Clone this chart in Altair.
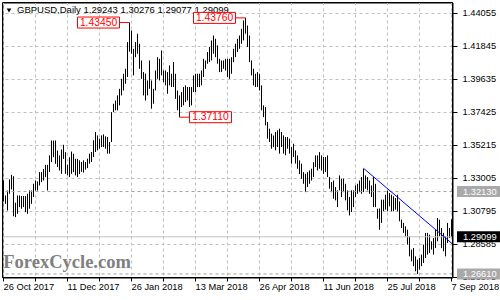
import altair as alt
import pandas as pd

# ---- daily GBPUSD bars, 26 Oct 2017 .. 7 Sep 2018 ----
highs = [
    1.3287, 1.3187, 1.3220, 1.3294, 1.3325, 1.3316, 1.3138, 1.3187, 1.3187, 1.3183,
    1.3183, 1.3183, 1.3198, 1.3220, 1.3220, 1.3265, 1.3287, 1.3281, 1.3343, 1.3343,
    1.3365, 1.3392, 1.3392, 1.3455, 1.3555, 1.3555, 1.3555, 1.3488, 1.3455, 1.3495,
    1.3526, 1.3477, 1.3392, 1.3443, 1.3481, 1.3466, 1.3432, 1.3432,
    1.3422, 1.3411, 1.3422, 1.3411, 1.3433, 1.3467, 1.3478, 1.3556, 1.3612, 1.3589,
    1.3567, 1.3589, 1.3596, 1.3583, 1.3578, 1.3545, 1.3745, 1.3801, 1.3823, 1.3857,
    1.3901, 1.3968, 1.4002, 1.4035, 1.4214, 1.4345, 1.4292, 1.4169, 1.4214, 1.4270,
    1.4203, 1.4091, 1.4013, 1.4002, 1.3957, 1.4091, 1.3957, 1.3901,
    1.4024, 1.4113, 1.4102, 1.4158, 1.4024, 1.4024, 1.4013, 1.4058, 1.4002, 1.4080,
    1.4002, 1.3890, 1.3857, 1.3879, 1.3913, 1.3924, 1.3913, 1.3913, 1.3913, 1.3991,
    1.4002, 1.4002, 1.4002, 1.4024, 1.4102, 1.4091, 1.4147, 1.4181, 1.4225, 1.4258,
    1.4236, 1.4192, 1.4102, 1.4091, 1.4091,
    1.4102, 1.4102, 1.4102, 1.4113, 1.4169, 1.4203, 1.4236, 1.4258, 1.4303, 1.4359,
    1.4376, 1.4325, 1.4258, 1.4091, 1.4035, 1.4002, 1.4013, 1.4002, 1.3924, 1.3790,
    1.3779, 1.3679, 1.3634, 1.3601, 1.3589, 1.3612, 1.3623, 1.3634, 1.3612, 1.3589,
    1.3578, 1.3578, 1.3567, 1.3511, 1.3533, 1.3489, 1.3455, 1.3422, 1.3400,
    1.3343, 1.3332, 1.3343, 1.3354, 1.3366, 1.3410, 1.3455, 1.3455, 1.3477, 1.3455,
    1.3444, 1.3444, 1.3455, 1.3310, 1.3276, 1.3287, 1.3243, 1.3221, 1.3321, 1.3299,
    1.3299, 1.3265, 1.3221, 1.3176, 1.3221, 1.3221, 1.3254, 1.3265, 1.3287, 1.3310,
    1.3366, 1.3321, 1.3310, 1.3287, 1.3254, 1.3310,
    1.3265, 1.3098, 1.3100, 1.3159, 1.3159, 1.3192, 1.3219, 1.3203, 1.3192, 1.3181,
    1.3170, 1.3192, 1.3147, 1.3025, 1.3003, 1.2980, 1.2958, 1.2913, 1.2824, 1.2835,
    1.2779, 1.2757, 1.2768, 1.2791, 1.2858, 1.2936, 1.2936, 1.2924, 1.2880, 1.2902,
    1.2958, 1.3036, 1.3025, 1.2969, 1.2936, 1.2913, 1.3003, 1.2969, 1.3028,
]
lows = [
    1.3147, 1.3131, 1.3086, 1.3198, 1.3227, 1.3048, 1.3042, 1.3064, 1.3109, 1.3098,
    1.3109, 1.3075, 1.3064, 1.3098, 1.3131, 1.3176, 1.3220, 1.3220, 1.3254, 1.3276,
    1.3287, 1.3310, 1.3220, 1.3343, 1.3410, 1.3443, 1.3399, 1.3377, 1.3354, 1.3332,
    1.3432, 1.3332, 1.3321, 1.3310, 1.3332, 1.3343, 1.3321, 1.3310,
    1.3330, 1.3345, 1.3340, 1.3360, 1.3370, 1.3400, 1.3411, 1.3444, 1.3478, 1.3489,
    1.3500, 1.3511, 1.3511, 1.3500, 1.3467, 1.3467, 1.3545, 1.3745, 1.3757, 1.3757,
    1.3790, 1.3857, 1.3890, 1.3935, 1.3980, 1.4150, 1.4136, 1.3991, 1.4113, 1.4136,
    1.4035, 1.3968, 1.3857, 1.3823, 1.3857, 1.3901, 1.3768, 1.3801,
    1.3890, 1.3968, 1.3957, 1.3991, 1.3946, 1.3924, 1.3868, 1.3924, 1.3913, 1.3913,
    1.3834, 1.3757, 1.3711, 1.3779, 1.3790, 1.3812, 1.3823, 1.3779, 1.3790, 1.3879,
    1.3879, 1.3913, 1.3913, 1.3924, 1.3980, 1.4035, 1.4069, 1.4080, 1.4091, 1.4136,
    1.4113, 1.4069, 1.4013, 1.4013, 1.4035,
    1.4024, 1.3980, 1.3968, 1.4002, 1.4080, 1.4113, 1.4147, 1.4169, 1.4203, 1.4225,
    1.4270, 1.4181, 1.4080, 1.3991, 1.3924, 1.3913, 1.3913, 1.3890, 1.3757, 1.3711,
    1.3656, 1.3567, 1.3545, 1.3500, 1.3511, 1.3489, 1.3511, 1.3467, 1.3511, 1.3467,
    1.3456, 1.3500, 1.3467, 1.3400, 1.3444, 1.3400, 1.3366, 1.3330, 1.3299,
    1.3265, 1.3209, 1.3243, 1.3265, 1.3287, 1.3310, 1.3377, 1.3354, 1.3366, 1.3354,
    1.3332, 1.3343, 1.3310, 1.3232, 1.3209, 1.3165, 1.3154, 1.3109, 1.3221, 1.3176,
    1.3209, 1.3154, 1.3087, 1.3053, 1.3076, 1.3109, 1.3176, 1.3198, 1.3209, 1.3198,
    1.3209, 1.3232, 1.3221, 1.3198, 1.3176, 1.3109,
    1.3109, 1.3031, 1.2957, 1.3003, 1.3081, 1.3092, 1.3081, 1.3114, 1.3081, 1.3081,
    1.3092, 1.3081, 1.3014, 1.2969, 1.2936, 1.2913, 1.2858, 1.2779, 1.2746, 1.2713,
    1.2679, 1.2661, 1.2690, 1.2713, 1.2735, 1.2768, 1.2791, 1.2802, 1.2824, 1.2791,
    1.2835, 1.2880, 1.2913, 1.2835, 1.2813, 1.2779, 1.2869, 1.2902, 1.2908,
]

date_tick_idx = [0, 32, 64, 96, 128, 160, 192, 224]
date_tick_labels = ["26 Oct 2017", "11 Dec 2017", "26 Jan 2018", "13 Mar 2018",
                    "26 Apr 2018", "11 Jun 2018", "25 Jul 2018", "7 Sep 2018"]
date_grid_idx = [0, 16, 32, 48, 64, 80, 96, 112, 128, 144, 160, 176, 192, 208, 224]
price_ticks = [1.26375, 1.28585, 1.30795, 1.33005, 1.35215, 1.37425, 1.39635, 1.41845, 1.44055]

# annotations
peak_idx = [63, 121]
peak_price = [1.4345, 1.4376]
peak_text = ["1.43450", "1.43760"]
trough_idx = [88]
trough_price = [1.3711]
trough_text = ["1.37110"]

level_price = [1.3213, 1.2661]
level_text = ["1.32130", "1.26610"]
bid_price = [1.29099]
bid_text = ["1.29099"]

trend_idx = [180, 224.5]
trend_price = [1.3369, 1.2862]

title_text = "GBPUSD,Daily  1.29243 1.30276 1.29077 1.29099"
watermark = "ForexCycle.com"

FONT = "Liberation Sans"

bars = pd.DataFrame({"i": list(range(len(highs))), "high": highs, "low": lows})

xs = alt.Scale(domain=[-0.5, 224.5], nice=False, zero=False)
ys = alt.Scale(domain=[1.26374, 1.4479167], nice=False, zero=False)

label_expr = "''"
for idx, lab in reversed(list(zip(date_tick_idx, date_tick_labels))):
    label_expr = f"datum.value == {idx} ? '{lab}' : ({label_expr})"

x_axis = alt.Axis(values=date_grid_idx, grid=True, gridColor="#c0c0c0", gridDash=[3, 3],
                  labelExpr=label_expr, labelAlign="left", labelBaseline="top",
                  tickSize=4, tickColor="black", domain=False, title=None,
                  labelFont=FONT, labelFontSize=9.3, labelColor="black",
                  labelPadding=1, labelFlush=False, labelOverlap=False, translate=0)
y_axis = alt.Axis(orient="right", values=price_ticks, format=".5f", grid=True,
                  gridColor="#c0c0c0", gridDash=[3, 3], tickSize=5, tickColor="black",
                  domain=False, title=None, labelFont=FONT, labelFontSize=9.3,
                  labelColor="black", labelPadding=5, labelFlush=False,
                  labelOverlap=False, translate=0)


def X(field):
    return alt.X(field, scale=xs, axis=x_axis)


def Y(field):
    return alt.Y(field, scale=ys, axis=y_axis)


# plot frame
frame_df = pd.DataFrame({"t": [""]})
frame = alt.Chart(frame_df).mark_rect(fill=None, stroke="black", strokeWidth=1).encode(
    x=alt.value(0), x2=alt.value(450), y=alt.value(0), y2=alt.value(275))

bar_layer = alt.Chart(bars).mark_rule(color="black", strokeWidth=1).encode(
    x=X("i:Q"), y=Y("high:Q"), y2="low:Q")

lev_df = pd.DataFrame({"p": level_price, "t": level_text})
bid_df = pd.DataFrame({"p": bid_price, "t": bid_text})

level_lines = alt.Chart(lev_df).mark_rule(color="#a0a0a0", strokeDash=[3, 3], strokeWidth=1).encode(
    y=Y("p:Q"))
bid_line = alt.Chart(bid_df).mark_rule(color="#c0c0c0", strokeWidth=1).encode(y=Y("p:Q"))

trend_df = pd.DataFrame({"i": trend_idx, "p": trend_price})
trend = alt.Chart(trend_df).mark_line(color="#0000ff", strokeWidth=1).encode(
    x=X("i:Q"), y=Y("p:Q"))

peak_df = pd.DataFrame({"i": peak_idx, "p": peak_price, "t": peak_text})
trough_df = pd.DataFrame({"i": trough_idx, "p": trough_price, "t": trough_text})


def annot(df, side):
    enc = dict(x=X("i:Q"), y=Y("p:Q"))
    if side < 0:
        line = alt.Chart(df).mark_rule(color="red", strokeWidth=1, xOffset=-10).encode(
            x2="i:Q", **enc)
    else:
        line = alt.Chart(df).mark_rule(color="red", strokeWidth=1, x2Offset=10).encode(
            x2="i:Q", **enc)
    box = alt.Chart(df).mark_rect(width=42, height=11, xOffset=31 * side, fill="white",
                                  stroke="red", strokeWidth=1).encode(**enc)
    txt = alt.Chart(df).mark_text(color="red", font=FONT, fontSize=10.3, dx=31 * side,
                                  align="center", baseline="middle").encode(text="t:N", **enc)
    return [line, box, txt]


def side_box(df, fill):
    box = alt.Chart(df).mark_rect(height=11, fill=fill).encode(
        x=alt.value(454.5), x2=alt.value(497.5), y=Y("p:Q"))
    txt = alt.Chart(df).mark_text(color="white", font=FONT, fontSize=9.3, align="left",
                                  baseline="middle").encode(
        x=alt.value(460.5), y=Y("p:Q"), text="t:N")
    return [box, txt]


title_df = pd.DataFrame({"t": [title_text]})
title = alt.Chart(title_df).mark_text(font=FONT, fontSize=9.5, align="left",
                                      baseline="alphabetic", color="black").encode(
    x=alt.value(14.5), y=alt.value(10.8), text="t:N")
tri = alt.Chart(title_df).mark_point(shape="triangle-down", size=22, filled=True,
                                     color="black", opacity=1).encode(
    x=alt.value(6.5), y=alt.value(8))
wm_df = pd.DataFrame({"t": [watermark]})
wm = alt.Chart(wm_df).mark_text(font="Liberation Serif", fontWeight="bold", fontSize=18.5,
                                align="left", baseline="alphabetic", color="#808080").encode(
    x=alt.value(0.8), y=alt.value(265.5), text="t:N")

layers = [bar_layer, level_lines, bid_line, trend, title, tri, wm]
layers += annot(peak_df, -1) + annot(trough_df, 1)
layers += side_box(lev_df, "#a9a9a9") + side_box(bid_df, "black")
layers += [frame]

chart = alt.layer(*layers).properties(
    width=450, height=275,
    padding={"left": 2.5, "top": 2.5, "right": 47.5, "bottom": 22.5},
    autosize=alt.AutoSizeParams(type="none"),
    background="white",
).configure_view(stroke="black", strokeWidth=1)

chart.save("out.html", embed_options={"renderer": "svg", "actions": False})
